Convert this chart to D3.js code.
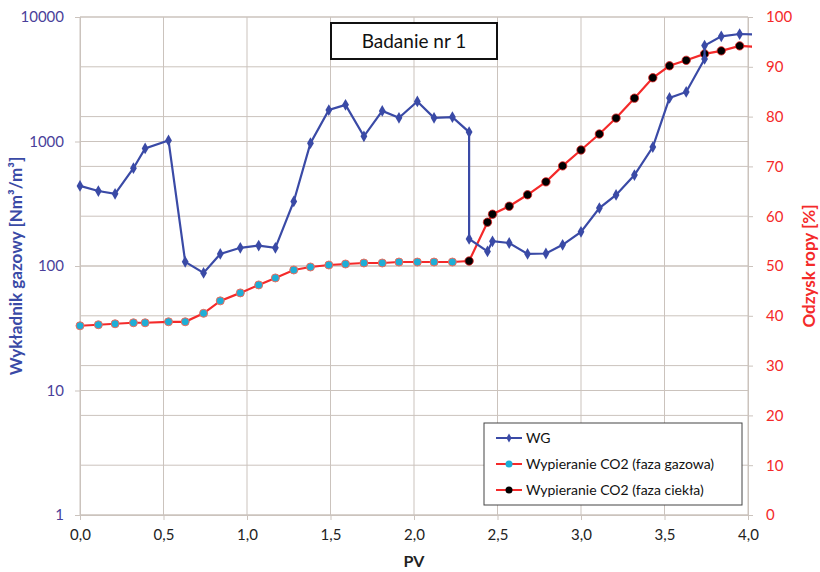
<!DOCTYPE html>
<html>
<head>
<meta charset="utf-8">
<script src="https://cdn.jsdelivr.net/npm/d3@7"></script>
<style>
  body { margin: 0; background: #fff; }
  text { font-family: "Lato", "Open Sans", sans-serif; }
</style>
</head>
<body>
<div id="chart"></div>
<script>
// --- data ---
const wgPV  = [0, 0.11, 0.21, 0.32, 0.39, 0.53, 0.63, 0.74, 0.84, 0.96, 1.07, 1.17, 1.28, 1.38, 1.49, 1.59, 1.70, 1.81, 1.91, 2.02, 2.12, 2.23, 2.33, 2.33, 2.44, 2.47, 2.57, 2.68, 2.79, 2.89, 3.00, 3.11, 3.21, 3.32, 3.43, 3.53, 3.63, 3.74, 3.74, 3.84, 3.95, 4.05];
const wgVal = [440, 400, 380, 610, 880, 1020, 108, 88, 125, 140, 146, 140, 330, 970, 1790, 1970, 1100, 1760, 1550, 2100, 1550, 1570, 1190, 165, 131, 158, 153, 125, 126, 148, 188, 292, 372, 538, 903, 2240, 2500, 4600, 5900, 7000, 7300, 7250];

const gasPV  = [0, 0.11, 0.21, 0.32, 0.39, 0.53, 0.63, 0.74, 0.84, 0.96, 1.07, 1.17, 1.28, 1.38, 1.49, 1.59, 1.70, 1.81, 1.91, 2.02, 2.12, 2.23];
const gasVal = [38.0, 38.2, 38.4, 38.6, 38.6, 38.8, 38.8, 40.5, 43.0, 44.6, 46.2, 47.6, 49.2, 49.8, 50.2, 50.4, 50.6, 50.6, 50.8, 50.8, 50.8, 50.8];

const liqPV  = [2.33, 2.44, 2.47, 2.57, 2.68, 2.79, 2.89, 3.00, 3.11, 3.21, 3.32, 3.43, 3.53, 3.63, 3.74, 3.84, 3.95, 4.05];
const liqVal = [51.0, 58.8, 60.4, 62.0, 64.3, 66.9, 70.1, 73.3, 76.5, 79.7, 83.7, 87.8, 90.2, 91.3, 92.6, 93.2, 94.2, 94.0];

const xTicks = [0, 0.5, 1, 1.5, 2, 2.5, 3, 3.5, 4];
const yLogTicks = [1, 10, 100, 1000, 10000];
const yRightTicks = [0, 10, 20, 30, 40, 50, 60, 70, 80, 90, 100];
const legendLabels = ["WG", "Wypieranie CO2 (faza gazowa)", "Wypieranie CO2 (faza ciekła)"];

const width = 820, height = 572;
const margin = { left: 80, right: 72, top: 17, bottom: 57 };
const blue = "#3a4aa6", red = "#f42a2a", grid = "#cbc3bd";

const svg = d3.select("#chart").append("svg")
    .attr("width", width)
    .attr("height", height);

const x = d3.scaleLinear().domain([0, 4]).range([margin.left, width - margin.right]);
const yL = d3.scaleLog().domain([1, 10000]).range([height - margin.bottom, margin.top]);
const yR = d3.scaleLinear().domain([0, 100]).range([height - margin.bottom, margin.top]);

// clip so the last points run just past the right edge
svg.append("defs").append("clipPath").attr("id", "plotclip")
  .append("rect")
    .attr("x", x(0) - 6).attr("y", 0)
    .attr("width", x(4) - x(0) + 10).attr("height", height);

// --- gridlines ---
const gridG = svg.append("g").attr("class", "grid");
gridG.selectAll("line.h1").data(yRightTicks).join("line")
    .attr("x1", x(0)).attr("x2", x(4))
    .attr("y1", d => yR(d)).attr("y2", d => yR(d))
    .attr("stroke", grid).attr("stroke-width", 1);
gridG.selectAll("line.h2").data(yLogTicks).join("line")
    .attr("x1", x(0)).attr("x2", x(4))
    .attr("y1", d => yL(d)).attr("y2", d => yL(d))
    .attr("stroke", grid).attr("stroke-width", 1);
gridG.selectAll("line.v").data(xTicks).join("line")
    .attr("x1", d => x(d)).attr("x2", d => x(d))
    .attr("y1", yL(10000)).attr("y2", yL(1))
    .attr("stroke", grid).attr("stroke-width", 1);

// --- axes ---
const xAxis = svg.append("g")
    .attr("transform", `translate(0,${yL(1)})`)
    .call(d3.axisBottom(x).tickValues(xTicks).tickSize(5).tickFormat(d => d3.format(".1f")(d).replace(".", ",")));
xAxis.select(".domain").attr("stroke", grid);
xAxis.selectAll(".tick line").attr("stroke", grid);
xAxis.selectAll("text").attr("fill", "#222").attr("font-size", 15).attr("dy", "1.15em");

const leftAxis = svg.append("g")
    .attr("transform", `translate(${x(0)},0)`)
    .call(d3.axisLeft(yL).tickValues(yLogTicks).tickSize(5).tickFormat(d3.format("d")));
leftAxis.select(".domain").attr("stroke", grid);
leftAxis.selectAll(".tick line").attr("stroke", grid);
leftAxis.selectAll("text").attr("fill", "#4a3f9a").attr("font-size", 15).attr("x", -16);

const rightAxis = svg.append("g")
    .attr("transform", `translate(${x(4)},0)`)
    .call(d3.axisRight(yR).tickValues(yRightTicks).tickSize(5));
rightAxis.select(".domain").attr("stroke", grid);
rightAxis.selectAll(".tick line").attr("stroke", grid);
rightAxis.selectAll("text").attr("fill", red).attr("font-size", 15).attr("x", 18);

// axis titles
svg.append("text")
    .attr("transform", `translate(22,${(yL(1) + yL(10000)) / 2}) rotate(-90)`)
    .attr("text-anchor", "middle")
    .attr("font-size", 17).attr("font-weight", "bold").attr("fill", blue)
    .text("Wykładnik gazowy [Nm³/m³]");
svg.append("text")
    .attr("transform", `translate(815,${(yR(0) + yR(100)) / 2}) rotate(-90)`)
    .attr("text-anchor", "middle")
    .attr("font-size", 17).attr("font-weight", "bold").attr("fill", red)
    .text("Odzysk ropy [%]");
svg.append("text")
    .attr("x", (x(0) + x(4)) / 2).attr("y", 567)
    .attr("text-anchor", "middle")
    .attr("font-size", 16).attr("font-weight", "bold").attr("fill", "#222")
    .text("PV");

// --- series ---
const plot = svg.append("g").attr("clip-path", "url(#plotclip)");

const wgData = wgPV.map((p, i) => [p, wgVal[i]]);
const gasData = gasPV.map((p, i) => [p, gasVal[i]]);
const liqData = liqPV.map((p, i) => [p, liqVal[i]]);

const lineL = d3.line().x(d => x(d[0])).y(d => yL(d[1]));
const lineR = d3.line().x(d => x(d[0])).y(d => yR(d[1]));

// red line: gas phase then liquid phase, joined
plot.append("path")
    .datum(gasData.concat(liqData))
    .attr("d", lineR)
    .attr("fill", "none").attr("stroke", red).attr("stroke-width", 2.2);

plot.selectAll("circle.gas").data(gasData).join("circle")
    .attr("cx", d => x(d[0])).attr("cy", d => yR(d[1])).attr("r", 4)
    .attr("fill", "#1eaed6").attr("stroke", "#f06a5a").attr("stroke-width", 1);

plot.selectAll("circle.liq").data(liqData).join("circle")
    .attr("cx", d => x(d[0])).attr("cy", d => yR(d[1])).attr("r", 4.2)
    .attr("fill", "#000").attr("stroke", "#e02020").attr("stroke-width", 0.8);

plot.append("path")
    .datum(wgData)
    .attr("d", lineL)
    .attr("fill", "none").attr("stroke", blue).attr("stroke-width", 2.2);

const diamond = d3.symbol().type(d3.symbolDiamond).size(40);
plot.selectAll("path.wg").data(wgData).join("path")
    .attr("transform", d => `translate(${x(d[0])},${yL(d[1])})`)
    .attr("d", diamond)
    .attr("fill", blue);

// --- title box ---
svg.append("rect")
    .attr("x", 331).attr("y", 23).attr("width", 166).attr("height", 36)
    .attr("fill", "#fff").attr("stroke", "#111").attr("stroke-width", 2);
svg.append("text")
    .attr("x", 414).attr("y", 48)
    .attr("text-anchor", "middle")
    .attr("font-size", 19).attr("fill", "#111")
    .text("Badanie nr 1");

// --- legend ---
const leg = svg.append("g").attr("transform", "translate(484,423)");
leg.append("rect")
    .attr("width", 258).attr("height", 82)
    .attr("fill", "#fff").attr("stroke", "#444").attr("stroke-width", 1);
const legColors = [blue, red, red];
legendLabels.forEach((lab, i) => {
    const gy = 15 + i * 26;
    leg.append("line")
        .attr("x1", 12).attr("x2", 38).attr("y1", gy).attr("y2", gy)
        .attr("stroke", legColors[i]).attr("stroke-width", 2);
    if (i === 0) {
        leg.append("path").attr("transform", `translate(25,${gy})`)
            .attr("d", d3.symbol().type(d3.symbolDiamond).size(24)).attr("fill", blue);
    } else {
        leg.append("circle").attr("cx", 25).attr("cy", gy).attr("r", 3.5)
            .attr("fill", i === 1 ? "#1eaed6" : "#000");
    }
    leg.append("text")
        .attr("x", 42).attr("y", gy + 5)
        .attr("font-size", 14).attr("fill", "#111")
        .text(lab);
});
</script>
</body>
</html>
